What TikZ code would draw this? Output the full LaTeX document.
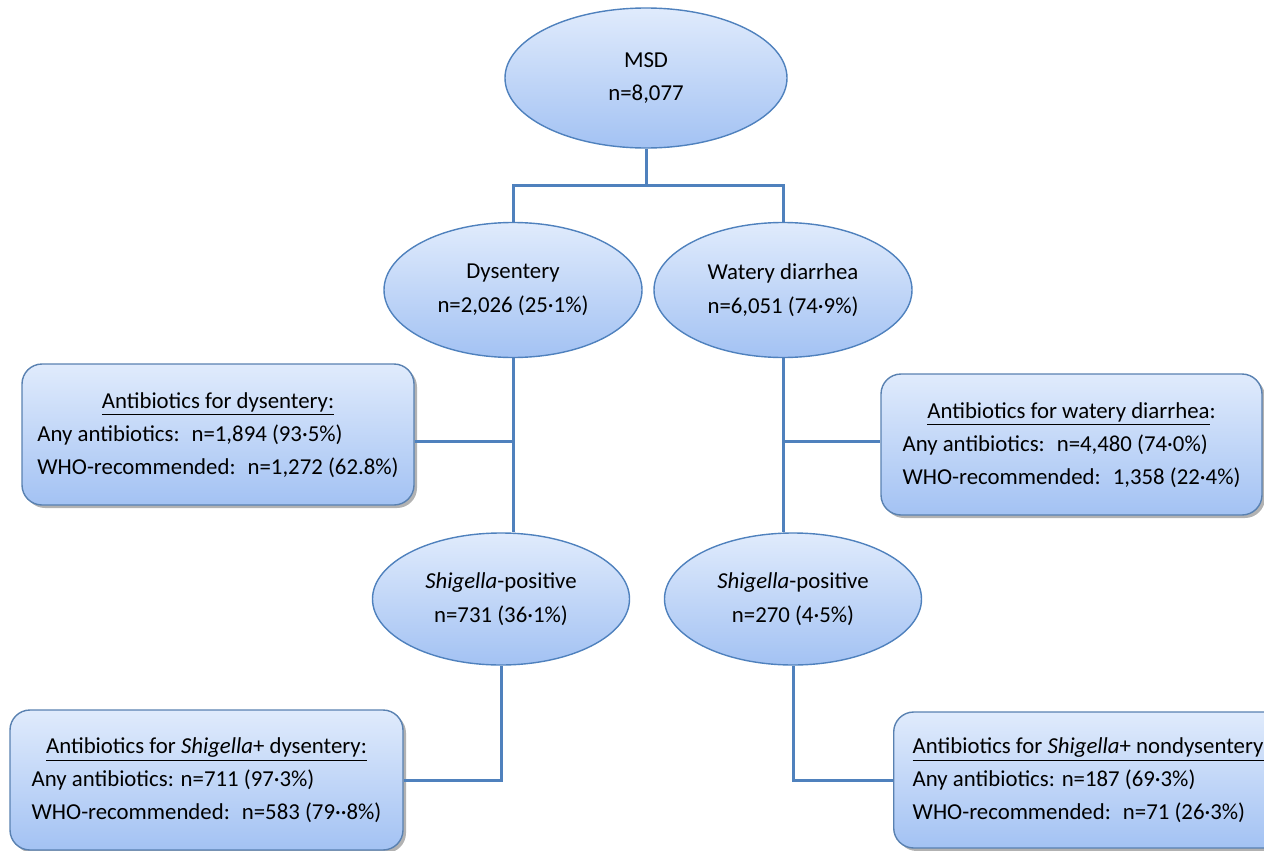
\documentclass[tikz,border=0pt]{standalone}
\usepackage{fontspec}
\setmainfont{Carlito}
\usetikzlibrary{positioning,shapes.geometric,shadows}
\definecolor{msdline}{HTML}{4F81BD}
\definecolor{msdtop}{HTML}{E0EBFC}
\definecolor{msdbot}{HTML}{A3C2F3}
\renewcommand{\arraystretch}{1.2}
\newcommand{\abxlines}[3]{\begin{tabular}{@{}l@{}}\multicolumn{1}{@{}c@{}}{#1}\\#2\\#3\end{tabular}}

\begin{document}
\begin{tikzpicture}[x=0.5pt, y=-0.5pt, every node/.style={font=\fontsize{11.4}{13.8}\selectfont}]
\tikzset{grp/.style={draw=msdline, line width=0.7pt, ellipse, top color=msdtop, bottom color=msdbot, align=center, inner sep=0pt}}
\tikzset{abx/.style={draw=msdline!80!gray, line width=0.7pt, rounded corners=10pt, top color=msdtop, bottom color=msdbot, inner sep=0pt, drop shadow={shadow xshift=1.5pt, shadow yshift=-1.5pt, fill=black, opacity=0.3}}}
\tikzset{link/.style={draw=msdline, line width=1.5pt}}
\useasboundingbox (0,0) rectangle (1264,851);
% groups
\node[grp, minimum width=141pt, minimum height=70pt] (msd) at (646,78) {MSD\\[3pt]n=8,077};
\node[grp, minimum width=129pt, minimum height=67.5pt] (dys) at (513,290) {Dysentery\\[3pt]n=2,026 (25·1\%)};
\node[grp, minimum width=129pt, minimum height=67.5pt] (wat) at (783,290) {Watery diarrhea\\[3pt]n=6,051 (74·9\%)};
\node[grp, minimum width=128.5pt, minimum height=66pt] (shl) at (501,599) {\textit{Shigella}-positive\\[3pt]n=731 (36·1\%)};
\node[grp, minimum width=128.5pt, minimum height=66pt] (shr) at (793,599) {\textit{Shigella}-positive\\[3pt]n=270 (4·5\%)};
% antibiotic boxes
\node[abx, minimum width=196pt, minimum height=70.5pt] (lb1) at (218,434.5)
  {\abxlines{\underline{Antibiotics for dysentery:}}{Any antibiotics:~ n=1,894 (93·5\%)}{WHO-recommended:~ n=1,272 (62.8\%)}};
\node[abx, minimum width=190.5pt, minimum height=70.5pt] (rb1) at (1071.5,444.5)
  {\abxlines{\underline{Antibiotics for watery diarrhea}:}{Any antibiotics:~ n=4,480 (74·0\%)}{WHO-recommended:~ 1,358 (22·4\%)}};
\node[abx, minimum width=196.5pt, minimum height=70pt] (lb2) at (206.5,780)
  {\abxlines{\underline{Antibiotics for \textit{Shigella}+ dysentery:}}{Any antibiotics: n=711 (97·3\%)}{WHO-recommended:~ n=583 (79··8\%)}};
\node[abx, anchor=west, inner xsep=9.5pt, minimum height=68pt] (rb2) at (893,780)
  {\abxlines{\underline{Antibiotics for \textit{Shigella}+ nondysentery:}}{Any antibiotics: n=187 (69·3\%)}{WHO-recommended:~ n=71 (26·3\%)}};
% connectors
\coordinate (top) at (646,185);
\coordinate (j1) at (513,441);
\coordinate (j2) at (783,441);
\draw[link] (msd.south) -- (top);
\draw[link] (dys.north) |- (top) -| (wat.north);
\draw[link] (dys.south) -- (dys.south |- shl.north);
\draw[link] (wat.south) -- (wat.south |- shr.north);
\draw[link] (j1) -- (j1 -| lb1.east);
\draw[link] (j2) -- (j2 -| rb1.west);
\draw[link] (shl.south) |- (lb2.east);
\draw[link] (shr.south) |- (rb2.west);
\end{tikzpicture}
\end{document}
